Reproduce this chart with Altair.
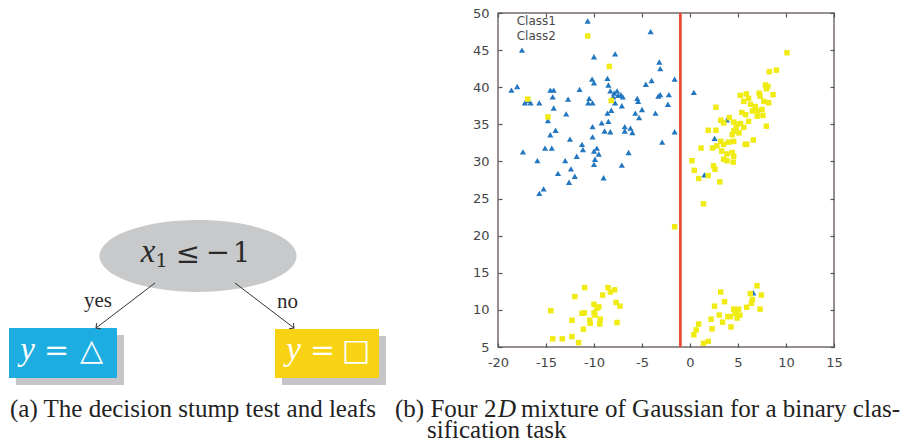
import math
import altair as alt
import pandas as pd

# ---------------- scatter data ----------------
class1_x = [-17.5, -4.1, -10.0, -7.8, -3.2, -3.1, -10.2, -10.0, -8.6, -8.5, -18.6, -18.0, -16.8, -17.2,
            -16.6, -15.7, -14.55, -14.2, -14.3, -14.2, -14.8, -12.7, -11.5, -12.9, -14.0, -14.55, -12.5,
            -15.1, -14.4, -17.4, -15.9, -13.0, -11.8, -12.4, -13.75, -12.0, -12.6, -15.25, -15.7, -11.25,
            -11.15, -10.15, -10.15, -10.15, -10.6, -10.0, -9.7, -9.5, -9.9, -10.0, -9.0, -8.6, -8.5, -9.2,
            -8.9, -8.3, -8.2, -7.8, -8.3, -7.9, -7.5, -7.2, -7.0, -7.6, -8.0, -7.1, -6.8, -6.2, -6.0, -6.8,
            -6.4, -7.1, -5.5, -5.4, -5.7, -5.0, -5.3, -4.6, -4.0, -3.6, -3.3, -3.1, -2.2, -2.3, -1.6, -1.6,
            -2.9, 0.4, 3.85, 2.56, 1.5, 6.6, -10.5]
class1_y = [45.0, 47.5, 44.1, 44.5, 43.4, 42.5, 41.1, 40.6, 41.2, 40.3, 39.6, 40.1, 38.2, 37.9,
            37.9, 37.9, 39.6, 39.6, 38.7, 37.2, 35.5, 38.4, 39.7, 36.4, 34.2, 33.6, 33.0,
            31.8, 31.8, 31.3, 30.1, 30.1, 30.7, 29.0, 28.4, 28.0, 27.2, 26.3, 25.7, 32.3,
            31.6, 33.3, 34.7, 37.9, 37.9, 31.4, 31.8, 31.0, 30.3, 29.6, 27.8, 36.5, 35.4, 35.2,
            34.1, 34.0, 36.9, 37.9, 39.5, 39.2, 38.9, 39.0, 38.7, 39.5, 38.7, 37.5, 34.7, 34.5, 33.9, 34.1,
            31.2, 29.5, 38.5, 38.1, 36.5, 37.0, 35.9, 40.4, 40.9, 36.5, 38.8, 39.0, 39.0, 37.7, 41.1, 34.0,
            32.6, 39.3, 35.6, 33.1, 28.2, 12.3, 38.5]

class2_x = [-16.9, -14.8, -8.4, -8.2, -1.6,
            10.1, 8.26, 9.0, 7.85, 8.1, 5.24, 5.86, 6.1, 5.6, 7.2, 7.3, 7.7, 8.2, 8.65, 6.3, 6.8, 6.5, 7.0,
            7.5, 7.6, 5.4, 5.8, 6.1, 7.95, 2.7, 3.2, 3.5, 4.1, 4.55, 4.9, 5.25, 4.55, 4.8, 4.4, 5.1, 1.9,
            2.7, 3.2, 3.5, 2.8, 4.0, 4.55, 5.9, 6.6, 1.15, 2.35, 3.3, 3.85, 4.4, 4.55, 3.5, 3.85, 4.5, 0.2,
            0.45, 2.45, 2.6, 1.9, 0.9, 3.1, 1.4, 7.95, 7.0, 5.6, 5.75,
            -10.98, -12.0, -8.55, -8.3, -7.85, -9.1, -7.7, -7.3, -10.0, -9.5, -9.7, -10.0, -14.5, -11.25,
            -11.0, -10.45, -9.35, -9.4, -12.3, -11.1, -7.6, -14.3, -13.3, -12.3, -11.6, -9.9, -10.4,
            6.98, 6.28, 7.43, 6.5, 6.4, 3.2, 3.6, 2.56, 5.9, 7.3, 4.55, 5.06, 4.7, 5.2, 4.9, 3.05, 3.95,
            4.2, 2.2, 3.4, 0.9, 0.65, 2.3, 4.27, 0.4, 1.4, 1.9]
class2_y = [38.4, 36.0, 42.8, 38.2, 21.2,
            44.65, 42.1, 42.3, 40.3, 40.1, 38.9, 39.1, 38.5, 38.1, 39.2, 38.8, 38.1, 37.9, 39.0, 37.7, 37.4,
            36.8, 36.8, 37.0, 36.2, 36.6, 36.3, 35.4, 34.75, 37.3, 35.55, 35.2, 35.9, 35.3, 35.0, 35.1, 34.1,
            34.5, 33.6, 33.85, 34.2, 34.2, 32.7, 32.3, 32.1, 32.6, 32.7, 32.3, 32.9, 31.8, 31.8, 31.4, 31.0,
            31.2, 30.7, 30.3, 30.1, 29.9, 30.1, 28.8, 29.4, 28.95, 28.1, 27.7, 27.25, 24.3, 39.8, 36.1, 34.6,
            32.3,
            13.0, 11.8, 13.0, 12.4, 12.7, 12.0, 11.0, 10.5, 10.75, 10.4, 10.2, 9.6, 9.9, 9.55,
            9.6, 8.6, 8.75, 8.1, 8.6, 7.4, 8.3, 6.1, 6.1, 6.4, 5.6, 9.3, 8.2,
            13.25, 12.2, 12.0, 11.4, 10.9, 12.4, 11.1, 10.5, 10.35, 10.1, 10.1, 10.1, 9.55, 9.3, 8.9, 9.3, 9.1,
            9.1, 8.75, 8.35, 8.1, 7.3, 7.45, 7.7, 6.65, 5.5, 5.75]

stump_threshold = [-1]
x_ticks = [-20, -15, -10, -5, 0, 5, 10, 15]
y_ticks = [5, 10, 15, 20, 25, 30, 35, 40, 45, 50]
legend_labels = ["Class1", "Class2"]

# ---------------- diagram (canvas coordinates, page pixels) ----------------
ellipse_cx = [198]
ellipse_cy = [256]
leaf_x = [9, 275]
leaf_x2 = [117, 379]
leaf_y = [328, 329]
leaf_y2 = [378, 378]
leaf_color = ["#1eade0", "#f8d314"]
shadow_dx = 7
shadow_dy = 7
arrow_x = [155, 235]
arrow_y = [283, 283]
arrow_x2 = [96, 294]
arrow_y2 = [328, 328]
edge_labels = ["yes", "no"]
edge_label_x = [98, 287.5]
edge_label_y = [307, 308]

italic_glyphs = ["x", "y", "y"]
italic_x = [148, 27.5, 293.5]
italic_y = [262, 360, 360]
italic_size = [33, 33, 33]
italic_color = ["#2a2a2a", "white", "white"]

upright_glyphs = ["1", "≤", "−", "1", "=", "△", "=", "□"]
upright_x = [161.5, 188, 218, 241.5, 56.5, 91.5, 322.5, 356]
upright_y = [267, 263, 262, 262, 360, 360, 360, 360]
upright_size = [19, 29, 29, 27, 30, 30, 30, 30]
upright_color = ["#2a2a2a"] * 4 + ["white"] * 4

caption_roman = ["(a) The decision stump test and leafs", "(b) Four 2",
                 "mixture of Gaussian for a binary clas-", "sification task"]
caption_roman_x = [10, 395, 521, 427]
caption_roman_y = [417, 417, 417, 438]
caption_italic = ["D"]
caption_italic_x = [498]
caption_italic_y = [417]

legend_text_x = [516.7, 516.7]
legend_sym_x = [587.7, 587.7]
legend_y = [21, 36]

# ---------------- styles ----------------
BLUE = "#2277c0"
YELLOW = "#efeb13"
RED = "#ea4a2c"
FRAME = "#756a6a"
GREY = "#c8c9cb"
W = 336
H = 334
TOP = 13     # page y of the plot's top edge
BOTTOM = 347  # page y of the plot's bottom edge
LEFT = 498
RIGHT = 834

SX = alt.Scale(domain=[-20, 15], nice=False, zero=False)
SY = alt.Scale(domain=[5, 50], nice=False, zero=False)
CX = alt.Scale(domain=[LEFT, RIGHT], nice=False, zero=False)
CY = alt.Scale(domain=[BOTTOM, TOP], nice=False, zero=False)


def cx(field):
    return alt.X(field, type="quantitative", scale=CX, axis=None)


def cy(field):
    return alt.Y(field, type="quantitative", scale=CY, axis=None)


# ---- diagram ----
leaves = pd.DataFrame({"x": leaf_x, "x2": leaf_x2, "y": leaf_y, "y2": leaf_y2, "c": leaf_color})
leaves["sx"] = leaves["x"] + shadow_dx
leaves["sx2"] = leaves["x2"] + shadow_dx
leaves["sy"] = leaves["y"] + shadow_dy
leaves["sy2"] = leaves["y2"] + shadow_dy

shadow = alt.Chart(leaves).mark_rect(color="#c6c6c8").encode(
    x=cx("sx"), x2="sx2", y=cy("sy"), y2="sy2")
boxes = alt.Chart(leaves).mark_rect().encode(
    x=cx("x"), x2="x2", y=cy("y"), y2="y2", color=alt.Color("c:N", scale=None))

ELLIPSE = "M-1,0A1,0.365,0,1,1,1,0A1,0.365,0,1,1,-1,0Z"
ellipse = alt.Chart(pd.DataFrame({"x": ellipse_cx, "y": ellipse_cy})).mark_point(
    shape=ELLIPSE, filled=True, color=GREY, size=197 ** 2, opacity=1, strokeWidth=0
).encode(x=cx("x"), y=cy("y"))

arrows = pd.DataFrame({"x": arrow_x, "y": arrow_y, "x2": arrow_x2, "y2": arrow_y2})
arrows["angle"] = [
    (math.degrees(math.atan2(b - a, d - c)) + 360) % 360
    for a, b, c, d in zip(arrow_y, arrow_y2, arrow_x, arrow_x2)
]
arrow_lines = alt.Chart(arrows).mark_rule(color="#333333", strokeWidth=1).encode(
    x=cx("x"), y=cy("y"), x2="x2", y2="y2")
arrow_heads = alt.Chart(arrows).mark_point(
    shape="M-1,-1L0,0L-1,1", filled=False, size=49, color="#333333", strokeWidth=1, opacity=1
).encode(x=cx("x2"), y=cy("y2"), angle=alt.Angle("angle:Q", scale=None))

edge_text = alt.Chart(pd.DataFrame({"t": edge_labels, "x": edge_label_x, "y": edge_label_y})).mark_text(
    font="Liberation Serif", fontSize=21, color="#2a2a2a", align="center", baseline="alphabetic"
).encode(x=cx("x"), y=cy("y"), text="t:N")

ital = alt.Chart(pd.DataFrame({"t": italic_glyphs, "x": italic_x, "y": italic_y,
                               "s": italic_size, "c": italic_color})).mark_text(
    font="Liberation Serif", fontStyle="italic", align="center", baseline="alphabetic"
).encode(x=cx("x"), y=cy("y"), text="t:N", size=alt.Size("s:Q", scale=None),
         color=alt.Color("c:N", scale=None))

upr = alt.Chart(pd.DataFrame({"t": upright_glyphs, "x": upright_x, "y": upright_y,
                              "s": upright_size, "c": upright_color})).mark_text(
    font="DejaVu Serif", align="center", baseline="alphabetic"
).encode(x=cx("x"), y=cy("y"), text="t:N", size=alt.Size("s:Q", scale=None),
         color=alt.Color("c:N", scale=None))

cap_r = alt.Chart(pd.DataFrame({"t": caption_roman, "x": caption_roman_x, "y": caption_roman_y})).mark_text(
    font="Liberation Serif", fontSize=25, color="#222222", align="left", baseline="alphabetic"
).encode(x=cx("x"), y=cy("y"), text="t:N")
cap_i = alt.Chart(pd.DataFrame({"t": caption_italic, "x": caption_italic_x, "y": caption_italic_y})).mark_text(
    font="Liberation Serif", fontStyle="italic", fontSize=25, color="#222222", align="left",
    baseline="alphabetic"
).encode(x=cx("x"), y=cy("y"), text="t:N")

# ---- scatter ----
c1 = pd.DataFrame({"x": class1_x, "y": class1_y})
c2 = pd.DataFrame({"x": class2_x, "y": class2_y})
tri = alt.Chart(c1).mark_point(shape="triangle-up", filled=True, size=38, color=BLUE, opacity=1).encode(
    x=alt.X("x:Q", scale=SX, axis=None), y=alt.Y("y:Q", scale=SY, axis=None))
sq = alt.Chart(c2).mark_point(shape="square", filled=True, size=30, color=YELLOW, opacity=1).encode(
    x=alt.X("x:Q", scale=SX, axis=None), y=alt.Y("y:Q", scale=SY, axis=None))
stump = alt.Chart(pd.DataFrame({"x": stump_threshold})).mark_rule(color=RED, strokeWidth=2.7).encode(
    x=alt.X("x:Q", scale=SX, axis=None))

leg_text = alt.Chart(pd.DataFrame({"t": legend_labels, "x": legend_text_x, "y": legend_y})).mark_text(
    font="DejaVu Sans", fontSize=12, color="#4a4a4a", align="left", baseline="middle"
).encode(x=cx("x"), y=cy("y"), text="t:N")
leg_tri = alt.Chart(pd.DataFrame({"x": legend_sym_x[:1], "y": legend_y[:1]})).mark_point(
    shape="triangle-up", filled=True, size=38, color=BLUE, opacity=1).encode(x=cx("x"), y=cy("y"))
leg_sq = alt.Chart(pd.DataFrame({"x": legend_sym_x[1:], "y": legend_y[1:]})).mark_point(
    shape="square", filled=True, size=30, color=YELLOW, opacity=1).encode(x=cx("x"), y=cy("y"))

# ---- axes ----
corners = pd.DataFrame({"x": [x_ticks[0], x_ticks[-1]], "y": [y_ticks[0], y_ticks[-1]]})
lab_common = dict(grid=False, domain=False, ticks=False, tickSize=0, title=None,
                  labelFont="DejaVu Sans", labelFontSize=13, labelColor="#444444",
                  labelExpr="'' + datum.value", labelFlush=False, labelOverlap=False)
axis_labels = alt.Chart(corners).mark_point(opacity=0).encode(
    x=alt.X("x:Q", scale=SX, axis=alt.Axis(orient="bottom", values=x_ticks, labelPadding=9, **lab_common)),
    y=alt.Y("y:Q", scale=SY, axis=alt.Axis(orient="left", values=y_ticks, labelPadding=9, **lab_common)))

tick_x = dict(grid=False, domain=False, labels=False, ticks=True, tickSize=4, tickWidth=1.2,
              tickColor="#555555", title=None, offset=-H)
tick_y = dict(tick_x, offset=-W)
ticks_a = alt.Chart(corners).mark_point(opacity=0).encode(
    x=alt.X("x:Q", scale=SX, axis=alt.Axis(orient="top", values=x_ticks, **tick_x)),
    y=alt.Y("y:Q", scale=SY, axis=alt.Axis(orient="right", values=y_ticks, **tick_y)))
ticks_b = alt.Chart(corners).mark_point(opacity=0).encode(
    x=alt.X("x:Q", scale=SX, axis=alt.Axis(orient="bottom", values=x_ticks, **tick_x)),
    y=alt.Y("y:Q", scale=SY, axis=alt.Axis(orient="left", values=y_ticks, **tick_y)))

chart = alt.layer(
    shadow, boxes, ellipse, arrow_lines, arrow_heads, edge_text, ital, upr, cap_r, cap_i,
    tri, sq, stump, leg_text, leg_tri, leg_sq, axis_labels, ticks_a, ticks_b
).resolve_scale(x="independent", y="independent").properties(
    width=W, height=H,
    autosize=alt.AutoSizeParams(type="none"),
    padding={"left": LEFT - 8, "top": TOP - 8, "right": 904 - RIGHT, "bottom": 440 - BOTTOM},
).configure_view(stroke=FRAME, strokeWidth=1.5)

chart.save("out.html", embed_options={"renderer": "svg", "actions": False})
